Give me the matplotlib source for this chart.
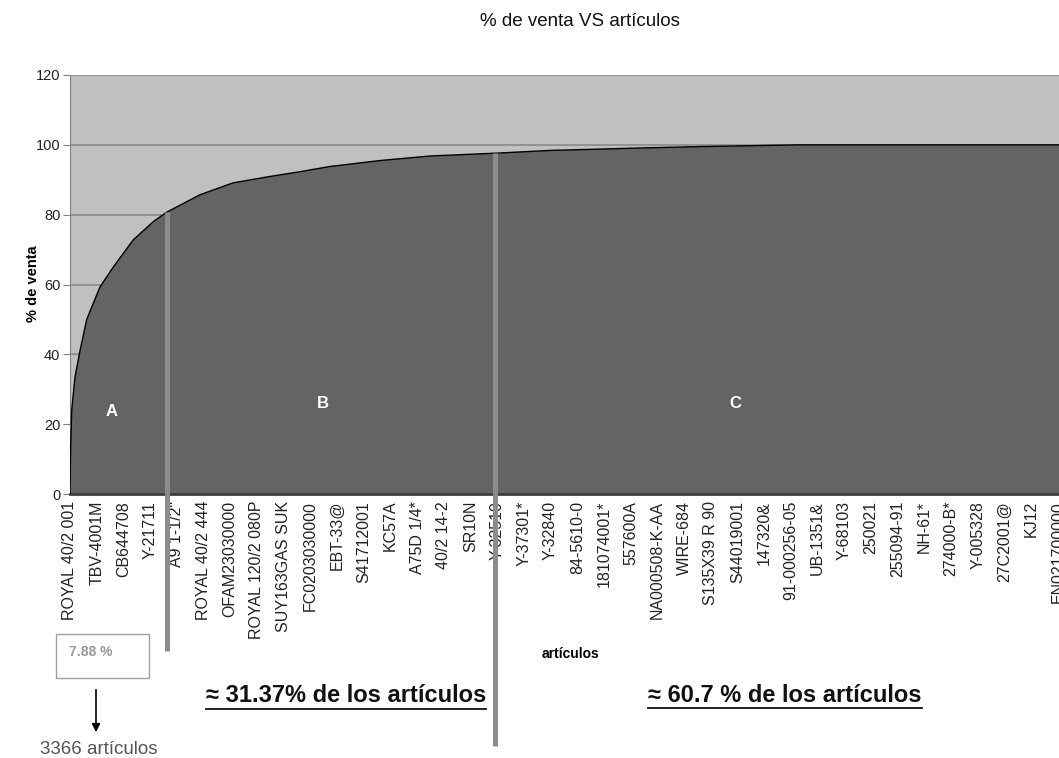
import matplotlib
matplotlib.use("Agg")
import matplotlib.pyplot as plt
from matplotlib.lines import Line2D
from matplotlib.patches import Rectangle, FancyArrowPatch

plt.rcParams['font.family'] = ['Liberation Sans', 'DejaVu Sans']

# ---------------- data ----------------
# cumulative article count (x) vs cumulative % of sales (y)
articles = [0, 20, 59, 174, 348, 582, 1045, 1508, 2205, 2902, 3366, 4528, 5677,
            6862, 7314, 8011, 9056, 10797, 12539, 14803, 16718, 18112, 19853,
            21943, 24033, 25426, 42716]
pct_venta = [0, 12, 24, 33.5, 41, 50, 59.3, 65, 72.8, 78, 80.7, 85.7, 89.1,
             90.8, 91.4, 92.3, 93.8, 95.5, 96.8, 97.6, 98.4, 98.7, 99.1,
             99.5, 99.8, 100, 100]

tick_labels = ["ROYAL 40/2 001", "TBV-4001M", "CB644708", "Y-21711", 'A9 1-1/2"',
               "ROYAL 40/2 444", "OFAM23030000", "ROYAL 120/2 080P", "SUY163GAS SUK",
               "FC0203030000", "EBT-33@", "S41712001", "KC57A", "A75D 1/4*",
               "40/2 14-2", "SR10N", "Y-32510", "Y-37301*", "Y-32840", "84-5610-0",
               "181074001*", "557600A", "NA000508-K-AA", "WIRE-684", "S135X39 R 90",
               "S44019001", "147320&", "91-000256-05", "UB-1351&", "Y-68103",
               "250021", "255094-91", "NH-61*", "274000-B*", "Y-005328",
               "27C2001@", "KJ12", "EN021700000"]
tick_step = 930          # articles between labelled categories
limite_A = 3366          # articles in class A
limite_B = 14800         # approx. end of class B
pct_A = 80.7
pct_B = 97.6
y_ticks = [0, 20, 40, 60, 80, 100, 120]

# ---------------- figure ----------------
W, H = 1059, 758
fig = plt.figure(figsize=(W / 100, H / 100), dpi=100)
fig.patch.set_facecolor('white')

def fx(px):
    return px / W

def fy(py):
    return 1 - py / H

x0, x1 = 70, 1100   # axes extends past the right edge (chart cropped)
y0, y1 = 494, 75
ax = fig.add_axes([fx(x0), fy(y0), fx(x1 - x0), (y0 - y1) / H])
ax.set_facecolor('#c0c0c0')

xmax = (x1 - x0) / 26.7 * tick_step
ax.set_xlim(0, xmax)
ax.set_ylim(0, 120)

for v in y_ticks[1:]:
    ax.axhline(v, color='#8a8a8a', lw=1.2, zorder=1)

ax.fill_between(articles, 0, pct_venta, color='#646464', lw=0, zorder=2)
ax.plot(articles, pct_venta, color='black', lw=1.0, zorder=3)

ax.set_yticks(y_ticks)
ax.set_yticklabels([str(v) for v in y_ticks], fontsize=10.5, color='#222222')
ax.tick_params(axis='y', direction='out', length=5, color='#808080', pad=2)

ticks = [i * tick_step for i in range(len(tick_labels))]
ax.set_xticks(ticks)
ax.set_xticklabels(tick_labels, rotation=90, fontsize=11.5, color='#222222',
                   ha='center', va='top')
ax.tick_params(axis='x', length=0, pad=5)

for s in ['top', 'right']:
    ax.spines[s].set_visible(False)
ax.spines['left'].set_color('#808080')
ax.spines['bottom'].set_color('#404040')
ax.spines['bottom'].set_linewidth(2)

fig.text(fx(33), fy(284), '% de venta', fontsize=10.5, fontweight='bold',
         rotation=90, ha='center', va='center')

fig.text(fx(580), fy(21), '% de venta VS artículos', fontsize=13.5,
         color='#111111', ha='center', va='center')
fig.text(fx(571), fy(654), 'artículos', fontsize=10, fontweight='bold',
         ha='center', va='center')

# A / B / C labels
for txt, px, py in [('A', 112, 411), ('B', 323, 404), ('C', 735, 404)]:
    fig.text(fx(px), fy(py), txt, color='white', fontsize=12,
             fontweight='bold', ha='center', va='center', zorder=10)

# vertical class boundary bars
def ydata(py):
    return (y0 - py) / (y0 - y1) * 120

ax.plot([limite_A, limite_A], [ydata(651), pct_A], color='#8c8c8c', lw=3.6,
        clip_on=False, zorder=6, solid_capstyle='butt')
ax.plot([limite_B, limite_B], [ydata(746), pct_B], color='#8c8c8c', lw=3.6,
        clip_on=False, zorder=6, solid_capstyle='butt')

# 7.88% box and arrow
fig.add_artist(Rectangle((fx(56), fy(678)), fx(93), (678 - 634) / H,
                         transform=fig.transFigure, fill=False,
                         edgecolor='#a0a0a0', lw=1))
fig.text(fx(91), fy(652), '7.88 %', color='#9a9a9a', fontsize=10,
         fontweight='bold', ha='center', va='center')
fig.add_artist(FancyArrowPatch((fx(96), fy(687)), (fx(96), fy(735)),
                               transform=fig.transFigure, arrowstyle='-|>',
                               mutation_scale=12, color='black', lw=1.2))
fig.text(fx(99), fy(749), '3366 artículos', color='#555555', fontsize=13.5,
         ha='center', va='center')

# big underlined annotations
t1 = fig.text(fx(346), fy(696), '≈ 31.37% de los artículos', fontsize=17,
              fontweight='bold', color='#111111', ha='center', va='center')
t2 = fig.text(fx(785), fy(695), '≈ 60.7 % de los artículos', fontsize=17,
              fontweight='bold', color='#111111', ha='center', va='center')

renderer = fig.canvas.get_renderer()
for t in (t1, t2):
    bb = t.get_window_extent(renderer)
    yline = bb.y0 - 1
    fig.add_artist(Line2D([bb.x0 / W, bb.x1 / W], [yline / H, yline / H],
                          transform=fig.transFigure, color='#111111', lw=1.3))

fig.savefig('out.png', dpi=100)
